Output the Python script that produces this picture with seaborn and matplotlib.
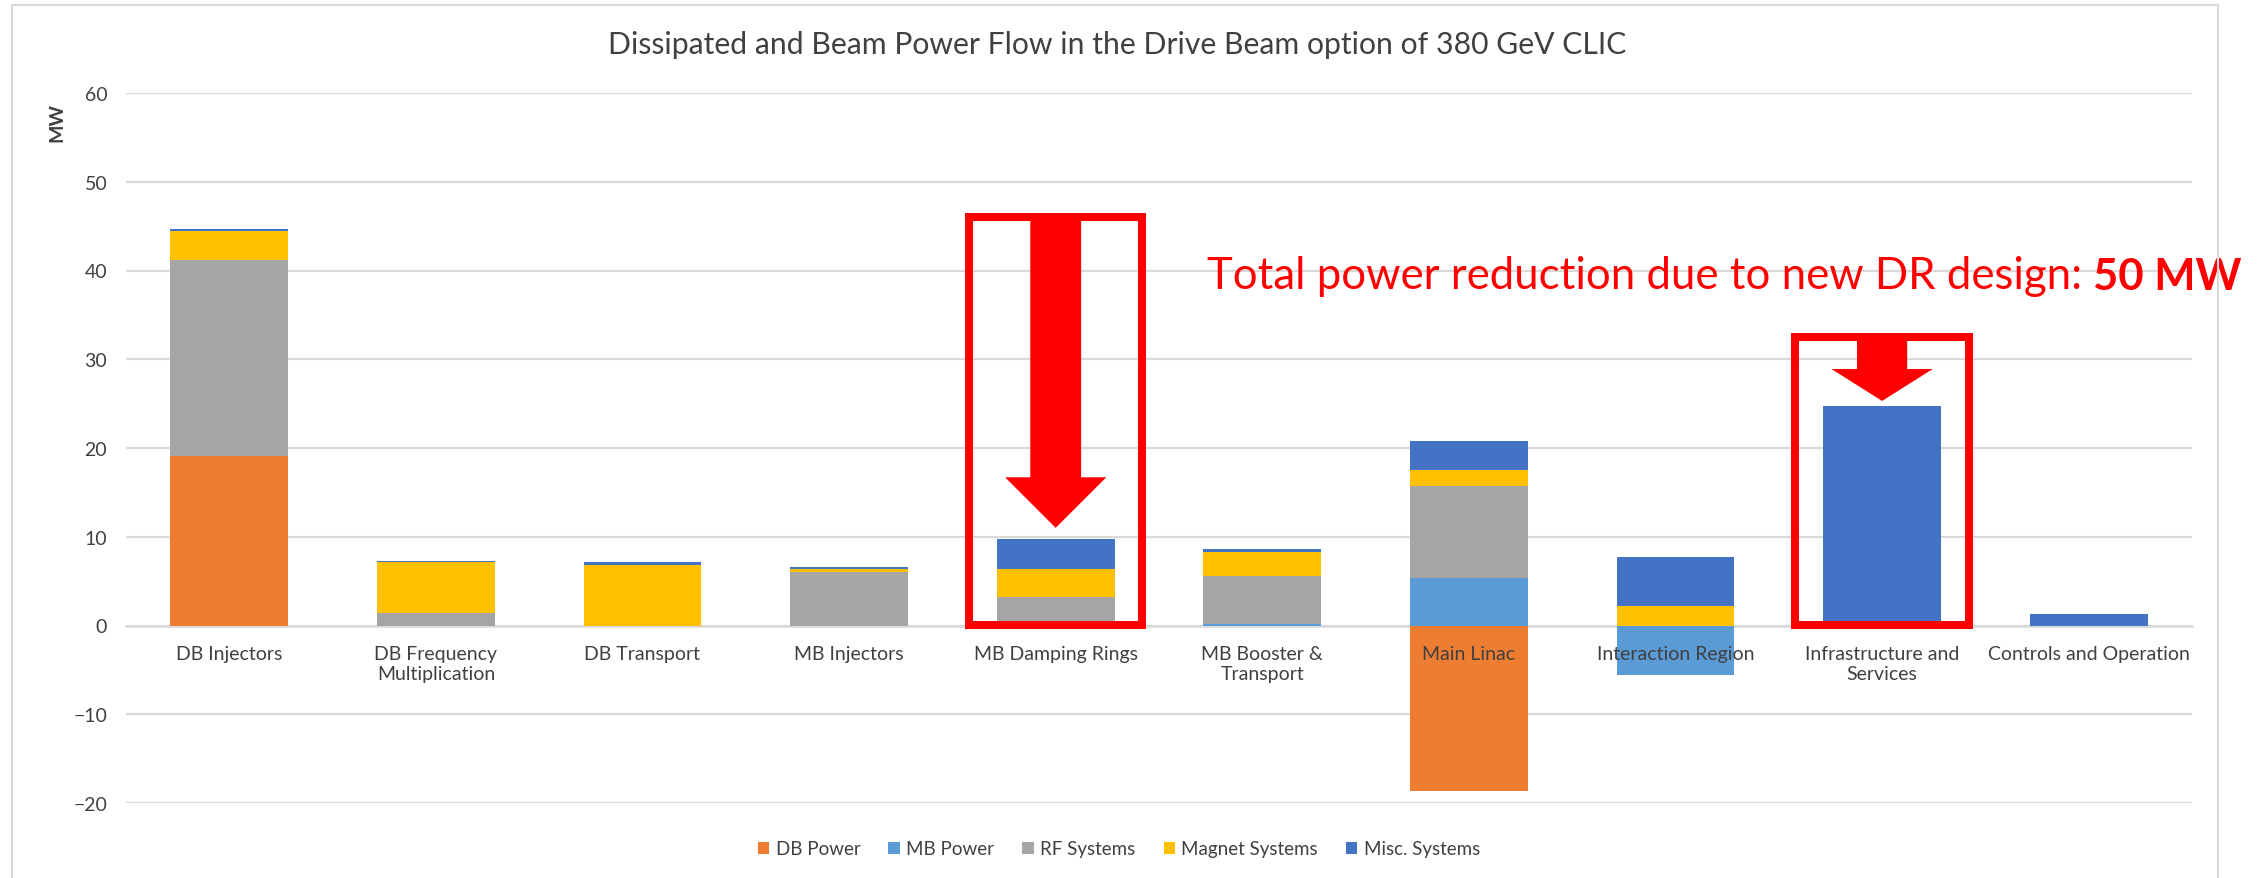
import numpy as np
import pandas as pd
import matplotlib
matplotlib.use("Agg")
import matplotlib.pyplot as plt
import seaborn as sns
from matplotlib.patches import Rectangle, FancyArrow, Patch

# ---------------- data ----------------
categories = ["DB Injectors", "DB Frequency\nMultiplication", "DB Transport", "MB Injectors",
              "MB Damping Rings", "MB Booster &\nTransport", "Main Linac", "Interaction Region",
              "Infrastructure and\nServices", "Controls and Operation"]
series_names = ["DB Power", "MB Power", "RF Systems", "Magnet Systems", "Misc. Systems"]
db_power = [19.1, 0, 0, 0, 0, 0, -18.6, 0, 0, 0]
mb_power = [0, 0, 0, 0, 0, 0.2, 5.3, -5.55, 0, 0]
rf_systems = [22.1, 1.45, 0, 6.0, 3.2, 5.4, 10.45, 0, 0, 0]
magnet_systems = [3.2, 5.65, 6.85, 0.35, 3.2, 2.7, 1.8, 2.15, 0, 0]
misc_systems = [0.3, 0.2, 0.3, 0.2, 3.3, 0.35, 3.25, 5.6, 24.7, 1.25]
colors = ["#ED7D31", "#5B9BD5", "#A5A5A5", "#FFC000", "#4472C4"]
yticks = [-20, -10, 0, 10, 20, 30, 40, 50, 60]
title = "Dissipated and Beam Power Flow in the Drive Beam option of 380 GeV CLIC"
ylabel = "MW"
note = "Total power reduction due to new DR design: "
note_bold = "50 MW"

# ---------------- style ----------------
sns.set_theme(style="white")
plt.rcParams["font.family"] = ["Lato", "DejaVu Sans"]
TXT = "#404040"
GRID = "#D9D9D9"

W, H = 2259, 879
fig = plt.figure(figsize=(W / 100, H / 100), dpi=100)
ax = fig.add_axes([126 / W, 1 - 804 / H, (2192 - 126) / W, (804 - 94) / H])

values = np.array([db_power, mb_power, rf_systems, magnet_systems, misc_systems])
pos = np.clip(values, 0, None)
neg = np.clip(values, None, 0)
bottom_pos = np.vstack([np.zeros(len(categories)), np.cumsum(pos, axis=0)[:-1]])
bottom_neg = np.vstack([np.zeros(len(categories)), np.cumsum(neg, axis=0)[:-1]])

for k, name in enumerate(series_names):
    df = pd.DataFrame({"category": categories, "value": pos[k]})
    sns.barplot(data=df, x="category", y="value", order=categories, color=colors[k],
                saturation=1, width=0.57, errorbar=None, bottom=bottom_pos[k],
                linewidth=0, ax=ax)
    if np.any(neg[k] < 0):
        dfn = pd.DataFrame({"category": categories, "value": neg[k]})
        sns.barplot(data=dfn, x="category", y="value", order=categories, color=colors[k],
                    saturation=1, width=0.57, errorbar=None, bottom=bottom_neg[k],
                    linewidth=0, ax=ax)

ax.set_xlim(-0.5, len(categories) - 0.5)
ax.set_ylim(-20, 60)
ax.set_yticks(yticks)
ax.set_xlabel("")
ax.set_ylabel("")
ax.set_axisbelow(True)
ax.xaxis.set_zorder(3)
ax.yaxis.grid(True, color=GRID, linewidth=1.6)
ax.xaxis.grid(False)
for s in ["left", "right", "top"]:
    ax.spines[s].set_visible(False)
ax.spines["bottom"].set_position(("data", 0))
ax.spines["bottom"].set_color(GRID)
ax.spines["bottom"].set_linewidth(1.8)
ax.spines["bottom"].set_zorder(0.6)
ax.tick_params(axis="both", length=0, labelsize=14, labelcolor=TXT)
ax.tick_params(axis="y", pad=13.5)
ax.tick_params(axis="x", pad=14)

# ---------------- annotations ----------------
RED = "#FF0000"
box_lw = 8 * 0.72
ax.add_patch(Rectangle((4 - 0.42, 0.1), 0.84, 45.9, fill=False, edgecolor=RED,
                       linewidth=box_lw, joinstyle="miter", zorder=5))
ax.add_patch(Rectangle((8 - 0.42, 0.1), 0.84, 32.4, fill=False, edgecolor=RED,
                       linewidth=box_lw, joinstyle="miter", zorder=5))
ax.add_patch(FancyArrow(4, 46.0, 0, -35.0, width=0.246, head_width=0.49, head_length=5.7,
                        length_includes_head=True, color=RED, linewidth=0, zorder=6))
ax.add_patch(FancyArrow(8, 32.5, 0, -7.2, width=0.243, head_width=0.49, head_length=3.6,
                        length_includes_head=True, color=RED, linewidth=0, zorder=6))

t1 = ax.text(4.73, 38.0, note, color=RED, fontsize=31.5, ha="left", va="baseline",
             clip_on=False, zorder=7)
ax.annotate(note_bold, xy=(1, 0), xycoords=t1, ha="left", va="bottom", color=RED,
            fontsize=31.5, fontweight="bold", annotation_clip=False, zorder=7)

fig.text(1117 / W, 1 - 45 / H, title, ha="center", va="center", fontsize=21.7, color=TXT)
fig.text(57 / W, 1 - 122 / H, ylabel, rotation=90, ha="center", va="center",
         fontsize=14, fontweight="bold", color=TXT)

handles = [Patch(facecolor=c, edgecolor="none", label=n) for c, n in zip(colors, series_names)]
fig.legend(handles=handles, loc="center", bbox_to_anchor=(1119 / W, 1 - 850 / H), ncol=5,
           frameon=False, fontsize=13.5, handlelength=0.6, handleheight=0.6,
           handletextpad=0.35, columnspacing=1.5, labelcolor=TXT)

# chart frame
fig.add_artist(Rectangle((12 / W, -0.05), (2218 - 12) / W, 1.05 - 6 / H, transform=fig.transFigure,
                         fill=False, edgecolor=GRID, linewidth=1.5, clip_on=False))

fig.savefig("out.png", dpi=100)
